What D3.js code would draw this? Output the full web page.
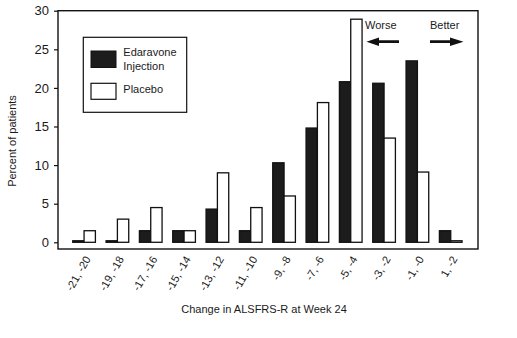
<!DOCTYPE html>
<html>
<head>
<meta charset="utf-8">
<script src="https://cdn.jsdelivr.net/npm/d3@7"></script>
<style>
  body { margin: 0; background: #fff; }
  text { font-family: "Liberation Sans", Arial, sans-serif; fill: #1a1a1a; }
</style>
</head>
<body>
<div class="chart"></div>
<script>
// change-score bins along the x axis
var bins = ["-21, -20", "-19, -18", "-17, -16", "-15, -14", "-13, -12", "-11, -10",
            "-9, -8", "-7, -6", "-5, -4", "-3, -2", "-1, -0", "1, -2"];
// percent of patients in each bin
var edaravone = [0.2, 0.2, 1.5, 1.5, 4.3, 1.5, 10.3, 14.8, 20.8, 20.6, 23.5, 1.5];
var placebo   = [1.5, 3.0, 4.5, 1.5, 9.0, 4.5, 6.0, 18.1, 28.9, 13.5, 9.1, 0.2];
var yTicks = [0, 5, 10, 15, 20, 25, 30];
var seriesNames = ["Edaravone", "Placebo"];

var svgWidth = 517, svgHeight = 338;
var margin = { top: 10.7, left: 58, right: 39, bottom: 95.7 };

var svg = d3.select(".chart").append("svg")
  .attr("width", svgWidth)
  .attr("height", svgHeight);

var data = bins.map(function(b, i) {
  return { bin: b, values: [edaravone[i], placebo[i]] };
});

// scales
var xScale = d3.scaleBand()
  .domain(bins)
  .range([67.4, 467.4])
  .paddingInner(0.32)
  .paddingOuter(0.16);
var xSub = d3.scaleBand()
  .domain(seriesNames)
  .range([0, xScale.bandwidth()]);
var yScale = d3.scaleLinear()
  .domain([0, 30])
  .range([svgHeight - margin.bottom, margin.top]);

// plot frame
var frameBottom = yScale(0) + 6.7;
svg.append("rect")
  .attr("x", margin.left)
  .attr("y", yScale(30))
  .attr("width", svgWidth - margin.right - margin.left)
  .attr("height", frameBottom - yScale(30))
  .attr("fill", "none")
  .attr("stroke", "#111")
  .attr("stroke-width", 1.4);

// y axis
var yAxis = d3.axisLeft(yScale).tickValues(yTicks).tickSize(4).tickPadding(5);
var yG = svg.append("g")
  .attr("transform", "translate(" + margin.left + ",0)")
  .call(yAxis);
yG.select(".domain").remove();
yG.selectAll("line").attr("stroke", "#111").attr("stroke-width", 1.2);
yG.selectAll("text")
  .style("font-family", "'Liberation Sans Narrow', 'Liberation Sans', sans-serif")
  .style("font-size", "13px")
  .attr("fill", "#1a1a1a");

// bars
var groups = svg.selectAll(".bin")
  .data(data)
  .enter().append("g")
  .attr("class", "bin")
  .attr("transform", function(d) { return "translate(" + xScale(d.bin) + ",0)"; });

groups.selectAll("rect")
  .data(function(d) { return d.values.map(function(v, i) { return { name: seriesNames[i], value: v }; }); })
  .enter().append("rect")
  .attr("x", function(d) { return xSub(d.name); })
  .attr("y", function(d) { return yScale(d.value); })
  .attr("width", xSub.bandwidth())
  .attr("height", function(d) { return yScale(0) - yScale(d.value); })
  .attr("fill", function(d) { return d.name === "Edaravone" ? "#1c1c1c" : "#fff"; })
  .attr("stroke", "#111")
  .attr("stroke-width", 1.3);

// x tick labels, slanted
svg.selectAll(".xlab")
  .data(bins)
  .enter().append("text")
  .attr("class", "xlab")
  .attr("text-anchor", "end")
  .attr("font-size", "11px")
  .attr("transform", function(d) {
    return "translate(" + (xScale(d) + xScale.bandwidth() / 2 + 7) + "," + 259 + ") rotate(-60)";
  })
  .text(function(d) { return d; });

// axis titles
svg.append("text")
  .attr("x", 264)
  .attr("y", 313)
  .attr("text-anchor", "middle")
  .attr("font-size", "11px")
  .text("Change in ALSFRS-R at Week 24");

svg.append("text")
  .attr("transform", "translate(16,141) rotate(-90)")
  .attr("text-anchor", "middle")
  .attr("font-size", "11px")
  .text("Percent of patients");

// legend
var legend = svg.append("g");
legend.append("rect")
  .attr("x", 83.3).attr("y", 37.3)
  .attr("width", 103.4).attr("height", 75)
  .attr("fill", "#fff").attr("stroke", "#111").attr("stroke-width", 1.2);
legend.append("rect")
  .attr("x", 91).attr("y", 51).attr("width", 25).attr("height", 16.5)
  .attr("fill", "#1c1c1c").attr("stroke", "#111").attr("stroke-width", 1);
legend.append("rect")
  .attr("x", 91).attr("y", 83.3).attr("width", 25).attr("height", 16)
  .attr("fill", "#fff").attr("stroke", "#111").attr("stroke-width", 1.2);
legend.append("text").attr("x", 123.3).attr("y", 56).attr("font-size", "11px").text("Edaravone");
legend.append("text").attr("x", 123.3).attr("y", 70).attr("font-size", "11px").text("Injection");
legend.append("text").attr("x", 123.3).attr("y", 92.5).attr("font-size", "11px").text("Placebo");

// direction notes
svg.append("text").attr("x", 365).attr("y", 29.3).attr("font-size", "11px").text("Worse");
svg.append("text").attr("x", 430).attr("y", 29.3).attr("font-size", "11px").text("Better");

var arrowY = 41.7;
// left arrow
svg.append("path")
  .attr("d", d3.line()([[399, arrowY - 1.4], [379, arrowY - 1.4], [379, arrowY - 4.2], [366.5, arrowY],
                        [379, arrowY + 4.2], [379, arrowY + 1.4], [399, arrowY + 1.4]]) + "Z")
  .attr("fill", "#111");
// right arrow
svg.append("path")
  .attr("d", d3.line()([[430, arrowY - 1.4], [450, arrowY - 1.4], [450, arrowY - 4.2], [463.5, arrowY],
                        [450, arrowY + 4.2], [450, arrowY + 1.4], [430, arrowY + 1.4]]) + "Z")
  .attr("fill", "#111");
</script>
</body>
</html>
